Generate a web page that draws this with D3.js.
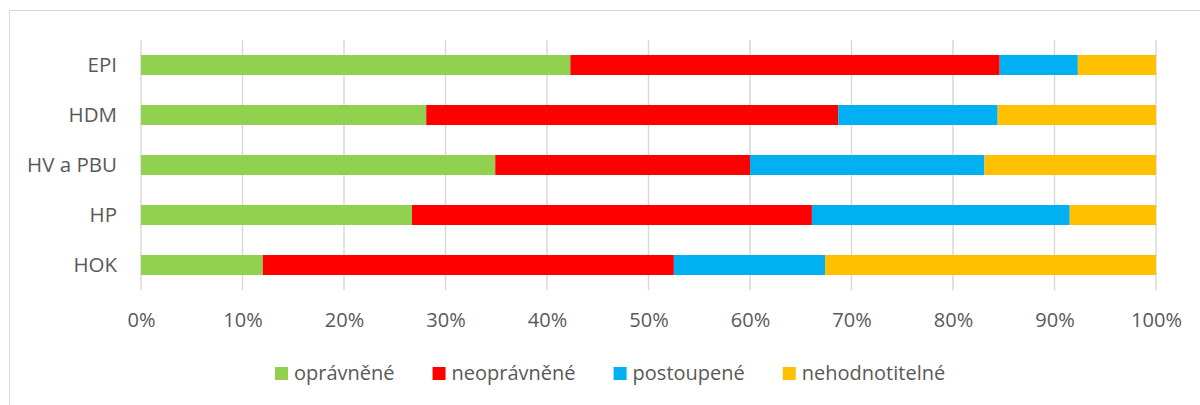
<!DOCTYPE html>
<html>
<head>
<meta charset="utf-8">
<script src="https://cdn.jsdelivr.net/npm/d3@7"></script>
<style>
  body { margin: 0; background: #fff; }
  svg { display: block; font-family: "Open Sans", sans-serif; }
</style>
</head>
<body>
<svg id="chart" width="1200" height="405"></svg>
<script>
const width = 1200;
const height = 405;

// data (percent of each row)
const categories = ["EPI", "HDM", "HV a PBU", "HP", "HOK"];
const seriesNames = ["oprávněné", "neoprávněné", "postoupené", "nehodnotitelné"];
const opravnene = [42.3, 28.1, 34.9, 26.7, 12.0];
const neopravnene = [42.3, 40.6, 25.1, 39.4, 40.5];
const postoupene = [7.7, 15.7, 23.1, 25.4, 14.9];
const nehodnotitelne = [7.7, 15.6, 16.9, 8.5, 32.6];
const tickValues = [0, 10, 20, 30, 40, 50, 60, 70, 80, 90, 100];
const colors = ["#92D050", "#FF0000", "#00B0F0", "#FFC000"];

const seriesValues = [opravnene, neopravnene, postoupene, nehodnotitelne];
const rows = categories.map((c, i) => {
  const row = { cat: c };
  seriesNames.forEach((s, j) => row[s] = seriesValues[j][i]);
  return row;
});

const margin = { left: 141, right: 44, top: 40, bottom: 115 };

const svg = d3.select("#chart");

// outer frame (right and bottom run off the picture)
svg.append("rect")
  .attr("x", 9.5).attr("y", 10.5)
  .attr("width", 1300).attr("height", 500)
  .attr("fill", "none")
  .attr("stroke", "#d9d9d9");

const x = d3.scaleLinear()
  .domain([0, 100])
  .range([margin.left, width - margin.right]);

const y = d3.scaleBand()
  .domain(categories)
  .range([margin.top, height - margin.bottom])
  .paddingInner(0.6)
  .paddingOuter(0.3);

// gridlines
svg.append("g")
  .selectAll("line")
  .data(tickValues)
  .enter()
  .append("line")
  .attr("x1", d => x(d)).attr("x2", d => x(d))
  .attr("y1", margin.top).attr("y2", height - margin.bottom)
  .attr("stroke", "#d9d9d9")
  .attr("stroke-width", 1.5);

const stacked = d3.stack().keys(seriesNames)(rows);

svg.append("g")
  .selectAll("g")
  .data(stacked)
  .enter()
  .append("g")
  .attr("fill", (d, i) => colors[i])
  .selectAll("rect")
  .data(d => d)
  .enter()
  .append("rect")
  .attr("x", d => x(d[0]))
  .attr("y", d => y(d.data.cat))
  .attr("width", d => x(d[1]) - x(d[0]))
  .attr("height", y.bandwidth());

// x axis labels
const xAxis = svg.append("g")
  .attr("transform", `translate(0,${height - margin.bottom})`)
  .call(d3.axisBottom(x).tickValues(tickValues).tickSize(0).tickPadding(23).tickFormat(d => d + "%"));
xAxis.select(".domain").remove();
xAxis.selectAll("text")
  .attr("fill", "#595959")
  .style("font-size", "20px")
  .style("font-family", "'Open Sans', sans-serif");

// category labels
const yAxis = svg.append("g")
  .attr("transform", `translate(${margin.left},0)`)
  .call(d3.axisLeft(y).tickSize(0).tickPadding(24));
yAxis.select(".domain").remove();
yAxis.selectAll("text")
  .attr("fill", "#595959")
  .style("font-size", "20.5px")
  .style("font-family", "'Open Sans', sans-serif");

// legend
const legend = svg.append("g").attr("transform", "translate(275,367)");
let lx = 0;
seriesNames.forEach((name, i) => {
  const item = legend.append("g").attr("transform", `translate(${lx},0)`);
  item.append("rect")
    .attr("width", 13).attr("height", 13)
    .attr("fill", colors[i]);
  const t = item.append("text")
    .attr("x", 19).attr("y", 13)
    .attr("fill", "#595959")
    .style("font-size", "20px")
    .text(name);
  lx += 19 + t.node().getComputedTextLength() + 38;
});
</script>
</body>
</html>
